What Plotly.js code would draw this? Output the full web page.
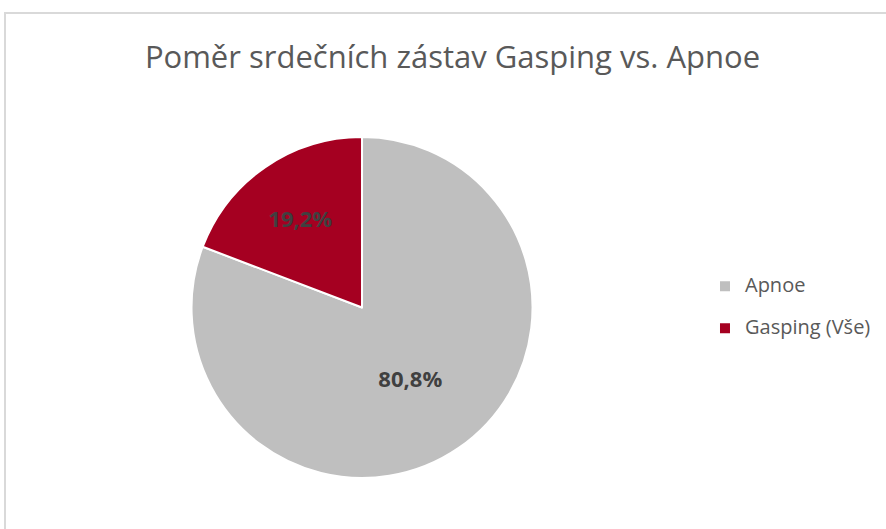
<!DOCTYPE html>
<html>
<head>
<meta charset="utf-8">
<script src="https://cdn.plot.ly/plotly-3.0.1.min.js"></script>
<style>
  html, body { margin: 0; padding: 0; background: #ffffff; overflow: hidden; }
  #frame { position: absolute; left: 4px; top: 12px; width: 1200px; height: 1000px;
           border-left: 2px solid #D9D9D9; border-top: 2px solid #D9D9D9; }
  #chart { position: absolute; left: 0; top: 0; width: 886px; height: 529px; }
</style>
</head>
<body>
<div id="frame"></div>
<div id="chart"></div>
<script>
// Data
var categories = ["Apnoe", "Gasping (Vše)"];
var values = [80.8, 19.2];
var colors = ["#BFBFBF", "#A50021"];
var chartTitle = "Poměr srdečních zástav Gasping vs. Apnoe";

var legendLabels = categories.map(function (c) {
  return "<span style='font-size:20px'>" + c + "</span><br>&nbsp;";
});

var trace = {
  type: "pie",
  labels: legendLabels,
  values: values,
  sort: false,
  direction: "clockwise",
  rotation: 0,
  marker: { colors: colors, line: { color: "#FFFFFF", width: 2 } },
  textinfo: "percent",
  texttemplate: "%{percent:.1%}",
  textposition: "inside",
  insidetextorientation: "horizontal",
  textfont: { family: "Open Sans", size: 22, color: "#404040", weight: "bold" },
  hoverinfo: "none",
  domain: { x: [0.1, 0.7172], y: [0, 1] }
};

var layout = {
  width: 886,
  height: 529,
  margin: { l: 0, r: 0, t: 137, b: 51, pad: 0 },
  paper_bgcolor: "rgba(0,0,0,0)",
  plot_bgcolor: "rgba(0,0,0,0)",
  separators: ",.",
  title: {
    text: chartTitle,
    font: { family: "Open Sans", size: 31, color: "#595959" },
    x: 0.5107, xref: "paper", xanchor: "center",
    y: 1 - 57 / 529, yref: "container", yanchor: "middle"
  },
  showlegend: true,
  legend: {
    x: 0.7957, xanchor: "left",
    y: 0.472, yanchor: "middle",
    valign: "top",
    font: { family: "Open Sans", size: 15, color: "#595959" },
    bgcolor: "rgba(0,0,0,0)"
  }
};

Plotly.newPlot("chart", [trace], layout, { displayModeBar: false, staticPlot: true });
</script>
</body>
</html>
